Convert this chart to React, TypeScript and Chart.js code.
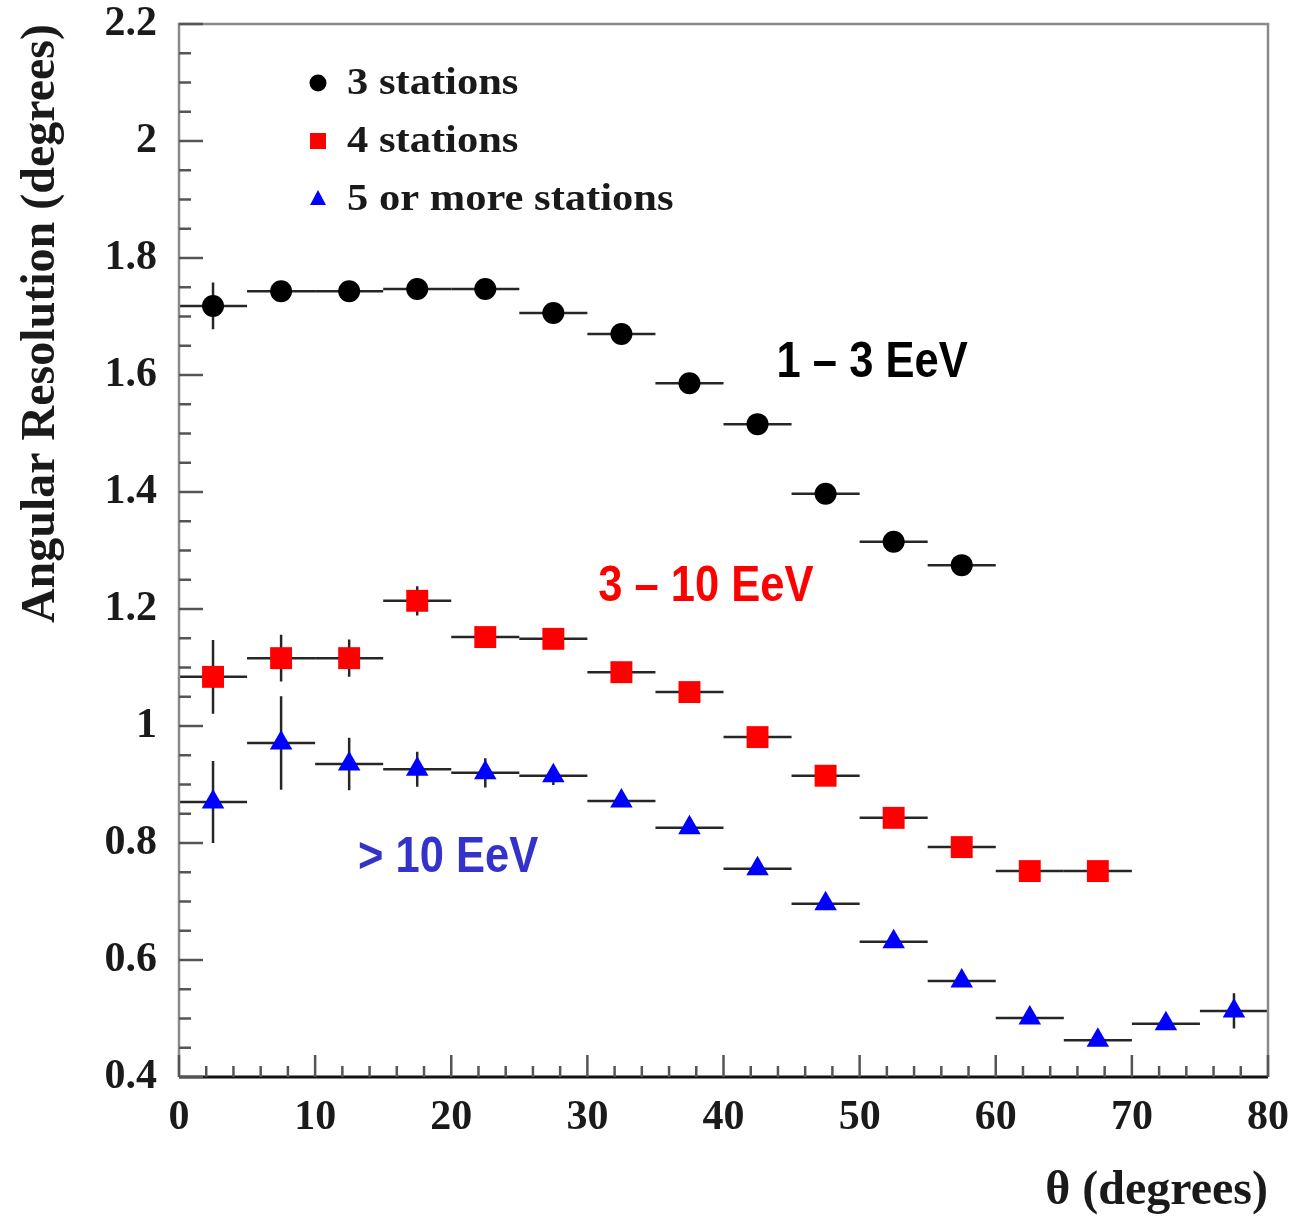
import React, { useEffect, useRef } from "react";
import { Chart, registerables } from "chart.js";

Chart.register(...registerables);

// ---- data ----
const binHalfWidth = 2.5;
const thetaCenters = [2.5, 7.5, 12.5, 17.5, 22.5, 27.5, 32.5, 37.5, 42.5, 47.5, 52.5, 57.5, 62.5, 67.5, 72.5, 77.5];

const res3Stations = [1.718, 1.743, 1.743, 1.747, 1.747, 1.706, 1.670, 1.586, 1.516, 1.397, 1.315, 1.275];
const err3Stations = [0.04, 0.012, 0.01, 0.01, 0.01, 0.01, 0.01, 0.01, 0.01, 0.01, 0.01, 0.01];

const res4Stations = [1.084, 1.116, 1.116, 1.214, 1.152, 1.149, 1.092, 1.058, 0.981, 0.915, 0.843, 0.793, 0.752, 0.752];
const err4Stations = [0.063, 0.04, 0.032, 0.025, 0.016, 0.01, 0.01, 0.01, 0.01, 0.01, 0.01, 0.01, 0.01, 0.01];

const res5Stations = [0.870, 0.971, 0.935, 0.926, 0.920, 0.915, 0.872, 0.826, 0.756, 0.696, 0.631, 0.564, 0.501, 0.463, 0.491, 0.513];
const err5Stations = [0.07, 0.08, 0.045, 0.03, 0.025, 0.016, 0.01, 0.01, 0.01, 0.01, 0.01, 0.01, 0.01, 0.01, 0.01, 0.03];

const seriesNames = ["3 stations", "4 stations", "5 or more stations"];
const seriesColors = ["#000000", "#ff0000", "#0000ff"];
const seriesStyles = ["circle", "rect", "triangle"];

const yTickValues = [0.4, 0.6, 0.8, 1.0, 1.2, 1.4, 1.6, 1.8, 2.0, 2.2];
const xTickValues = [0, 10, 20, 30, 40, 50, 60, 70, 80];

const energyLabels = ["1 \u2013 3 EeV", "3 \u2013 10 EeV", "> 10 EeV"];
const energyLabelTheta = [43.9, 30.8, 13.15];
const energyLabelRes = [1.62, 1.238, 0.774];
const energyLabelColors = ["#000000", "#ff0000", "#3333cc"];

function toPoints(vals: number[], errs: number[]) {
  return vals.map((v, i) => ({ x: thetaCenters[i], y: v, xErr: binHalfWidth, yErr: errs[i] }));
}

const errorBarPlugin = {
  id: "errorBars",
  beforeDatasetsDraw(chart: any) {
    const { ctx } = chart;
    const xs = chart.scales.x;
    const ys = chart.scales.y;
    ctx.save();
    ctx.strokeStyle = "#262626";
    ctx.lineWidth = 2.5;
    chart.data.datasets.forEach((ds: any) => {
      ds.data.forEach((p: any) => {
        const xl = xs.getPixelForValue(p.x - p.xErr);
        const xr = xs.getPixelForValue(p.x + p.xErr);
        const xc = xs.getPixelForValue(p.x);
        const yc = ys.getPixelForValue(p.y);
        const yt = ys.getPixelForValue(p.y + p.yErr);
        const yb = ys.getPixelForValue(p.y - p.yErr);
        ctx.beginPath();
        ctx.moveTo(xl, yc);
        ctx.lineTo(xr, yc);
        ctx.moveTo(xc, yt);
        ctx.lineTo(xc, yb);
        ctx.stroke();
      });
    });
    ctx.restore();
  },
};

const framePlugin = {
  id: "frameTicks",
  afterDatasetsDraw(chart: any) {
    const { ctx, chartArea } = chart;
    const { left, right, top, bottom } = chartArea;
    const xs = chart.scales.x;
    const ys = chart.scales.y;
    ctx.save();
    ctx.strokeStyle = "#8a8a8a";
    ctx.lineWidth = 2.5;
    ctx.beginPath();
    ctx.moveTo(left, bottom);
    ctx.lineTo(left, top);
    ctx.lineTo(right, top);
    ctx.lineTo(right, bottom);
    ctx.stroke();
    ctx.strokeStyle = "#111";
    ctx.lineWidth = 3;
    ctx.beginPath();
    ctx.moveTo(left, bottom);
    ctx.lineTo(right, bottom);
    ctx.stroke();
    ctx.strokeStyle = "#555";
    ctx.lineWidth = 2.5;
    for (let i = 0; i <= 36; i++) {
      const v = 0.4 + i * 0.05;
      const y = ys.getPixelForValue(v);
      const len = i % 4 === 0 ? 24 : 12;
      ctx.beginPath();
      ctx.moveTo(left, y);
      ctx.lineTo(left + len, y);
      ctx.stroke();
    }
    for (let i = 0; i <= 40; i++) {
      const v = i * 2;
      const x = xs.getPixelForValue(v);
      const len = i % 5 === 0 ? 22 : 11;
      ctx.beginPath();
      ctx.moveTo(x, bottom);
      ctx.lineTo(x, bottom - len);
      ctx.stroke();
    }
    ctx.restore();
  },
  afterDraw(chart: any) {
    const { ctx } = chart;
    const xs = chart.scales.x;
    const ys = chart.scales.y;
    ctx.save();
    const lx = 318;
    const ly = [83, 141, 199];
    seriesNames.forEach((name, i) => {
      ctx.fillStyle = seriesColors[i];
      const y = ly[i];
      ctx.beginPath();
      if (seriesStyles[i] === "circle") {
        ctx.arc(lx, y, 8.5, 0, Math.PI * 2);
      } else if (seriesStyles[i] === "rect") {
        ctx.rect(lx - 8, y - 8, 16, 16);
      } else {
        ctx.moveTo(lx, y - 9);
        ctx.lineTo(lx + 8, y + 6);
        ctx.lineTo(lx - 8, y + 6);
        ctx.closePath();
      }
      ctx.fill();
      ctx.fillStyle = "#1a1a1a";
      ctx.font = "bold 37px 'Liberation Serif', 'Times New Roman', serif";
      ctx.textBaseline = "middle";
      ctx.textAlign = "left";
      ctx.save();
      ctx.translate(347, y + 1);
      ctx.scale(1.15, 1);
      ctx.fillText(name, 0, 0);
      ctx.restore();
    });
    energyLabels.forEach((t, i) => {
      ctx.fillStyle = energyLabelColors[i];
      ctx.font = "bold 50px 'Liberation Sans', Arial, sans-serif";
      ctx.textBaseline = "middle";
      ctx.textAlign = "left";
      ctx.save();
      ctx.translate(xs.getPixelForValue(energyLabelTheta[i]), ys.getPixelForValue(energyLabelRes[i]));
      ctx.scale(0.87, 1);
      ctx.fillText(t, 0, 0);
      ctx.restore();
    });
    ctx.restore();
  },
};

export default function App() {
  const canvasRef = useRef<HTMLCanvasElement | null>(null);

  useEffect(() => {
    if (!canvasRef.current) return;
    const serif = "'Liberation Serif', 'Times New Roman', serif";
    const datasets = [res3Stations, res4Stations, res5Stations].map((vals, i) => ({
      label: seriesNames[i],
      data: toPoints(vals, [err3Stations, err4Stations, err5Stations][i]),
      pointStyle: seriesStyles[i],
      pointRadius: [11, 15.5, 13][i],
      backgroundColor: seriesColors[i],
      borderColor: seriesColors[i],
      borderWidth: 0,
      showLine: false,
    }));
    const chart = new Chart(canvasRef.current, {
      type: "scatter",
      data: { datasets } as any,
      plugins: [errorBarPlugin, framePlugin],
      options: {
        responsive: false,
        animation: false,
        devicePixelRatio: 1,
        layout: { padding: { top: 24, right: 23, left: 0, bottom: 0 } },
        plugins: { legend: { display: false }, tooltip: { enabled: false } },
        scales: {
          x: {
            type: "linear",
            min: 0,
            max: 80,
            grid: { display: false, drawTicks: false },
            border: { display: false },
            afterBuildTicks: (scale: any) => {
              scale.ticks = xTickValues.map((v) => ({ value: v }));
            },
            afterFit: (scale: any) => {
              scale.height = 143;
              scale.paddingLeft = 0;
              scale.paddingRight = 0;
            },
            ticks: {
              padding: 16,
              color: "#1a1a1a",
              font: { family: serif, size: 42, weight: "bold" },
              maxRotation: 0,
              callback: (v: any) => String(v),
            },
            title: {
              display: true,
              text: "\u03b8 (degrees)",
              align: "end",
              color: "#1a1a1a",
              font: { family: serif, size: 48, weight: "bold" },
              padding: { top: 0, bottom: 0 },
            },
          },
          y: {
            type: "linear",
            min: 0.4,
            max: 2.2,
            grid: { display: false, drawTicks: false },
            border: { display: false },
            afterBuildTicks: (scale: any) => {
              scale.ticks = yTickValues.map((v) => ({ value: v }));
            },
            afterFit: (scale: any) => {
              scale.width = 179;
              scale.paddingTop = 0;
              scale.paddingBottom = 0;
            },
            ticks: {
              padding: 22,
              color: "#1a1a1a",
              font: { family: serif, size: 42, weight: "bold" },
              callback: (v: any) => String(Number(Number(v).toFixed(1))),
            },
            title: {
              display: true,
              text: "Angular Resolution (degrees)",
              align: "end",
              color: "#1a1a1a",
              font: { family: serif, size: 48, weight: "bold" },
              padding: { top: 13, bottom: 0 },
            },
          },
        },
      } as any,
    });
    return () => chart.destroy();
  }, []);

  return (
    <div style={{ position: "absolute", left: 0, top: 0, width: 1291, height: 1220, background: "#fff" }}>
      <canvas ref={canvasRef} width={1291} height={1220} style={{ display: "block" }} />
    </div>
  );
}
